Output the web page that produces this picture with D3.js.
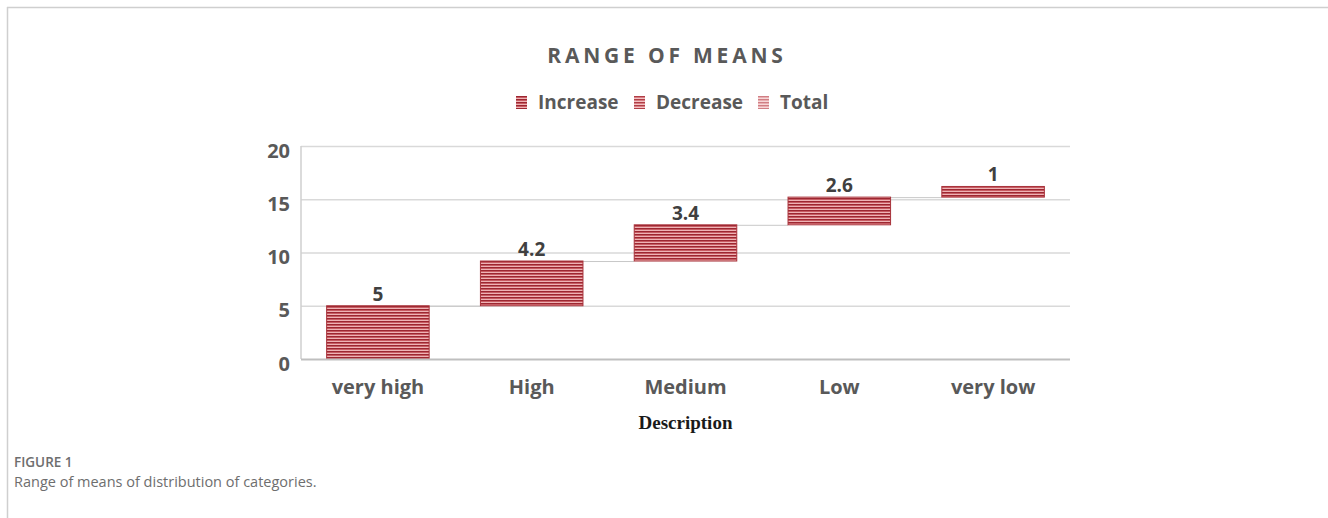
<!DOCTYPE html>
<html>
<head>
<meta charset="utf-8">
<script src="https://cdn.jsdelivr.net/npm/d3@7/dist/d3.min.js"></script>
<style>
  html, body { margin: 0; padding: 0; background: #fff; }
  svg { display: block; }
</style>
</head>
<body>
<svg id="chart" width="1328" height="518"></svg>
<script>
const categories = ["very high", "High", "Medium", "Low", "very low"];
const values = [5, 4.2, 3.4, 2.6, 1];
const valueLabels = ["5", "4.2", "3.4", "2.6", "1"];
const yTicks = [0, 5, 10, 15, 20];
const legendItems = ["Increase", "Decrease", "Total"];
const titleText = "RANGE OF MEANS";
const xAxisTitle = "Description";
const figLabel = "FIGURE 1";
const caption = "Range of means of distribution of categories.";

const svg = d3.select("#chart");
const W = 1328, H = 518;
const plot = { left: 301, right: 1070, top: 146, bottom: 359 };

// frame
svg.append("line").attr("x1", 7).attr("x2", W).attr("y1", 7.5).attr("y2", 7.5)
  .attr("stroke", "#cfcfcf").attr("stroke-width", 1.5);
svg.append("line").attr("x1", 7.5).attr("x2", 7.5).attr("y1", 7).attr("y2", H)
  .attr("stroke", "#cfcfcf").attr("stroke-width", 1.5);

// patterns
const defs = svg.append("defs");
function stripe(id, c1, c2, c3) {
  const p = defs.append("pattern").attr("id", id).attr("patternUnits", "userSpaceOnUse")
    .attr("width", 10).attr("height", 3);
  p.append("rect").attr("width", 10).attr("height", 1).attr("y", 0).attr("fill", c1);
  p.append("rect").attr("width", 10).attr("height", 1).attr("y", 1).attr("fill", c2);
  p.append("rect").attr("width", 10).attr("height", 1).attr("y", 2).attr("fill", c3);
}
stripe("pInc", "#9c2731", "#c75c63", "#eeb3b5");
stripe("pDec", "#b03e46", "#d77d83", "#f2c2c4");
stripe("pTot", "#d07e84", "#e8aeb1", "#f6d6d7");

const x = d3.scaleBand().domain(categories).range([plot.left, plot.right]).paddingInner(1/3).paddingOuter(1/6);
const y = d3.scaleLinear().domain([0, 20]).range([plot.bottom, plot.top]);

// gridlines
svg.append("g").selectAll("line").data(yTicks.filter(t => t > 0)).join("line")
  .attr("x1", plot.left).attr("x2", plot.right)
  .attr("y1", d => y(d) + 0.5).attr("y2", d => y(d) + 0.5)
  .attr("stroke", "#d9d9d9").attr("stroke-width", 1.5);

// waterfall data
let cum = 0;
const bars = values.map((v, i) => { const b = { cat: categories[i], start: cum, end: cum + v, label: valueLabels[i] }; cum += v; return b; });

// connectors
svg.append("g").selectAll("line").data(bars.slice(0, -1)).join("line")
  .attr("x1", d => x(d.cat) + x.bandwidth())
  .attr("x2", (d, i) => x(bars[i + 1].cat))
  .attr("y1", d => y(d.end) + 0.5).attr("y2", d => y(d.end) + 0.5)
  .attr("stroke", "#c8c8c8").attr("stroke-width", 1);

// bars
svg.append("g").selectAll("rect").data(bars).join("rect")
  .attr("x", d => x(d.cat)).attr("width", x.bandwidth())
  .attr("y", d => y(d.end)).attr("height", d => y(d.start) - y(d.end))
  .attr("fill", "url(#pInc)").attr("stroke", "#a8323a").attr("stroke-width", 1);

// value labels
svg.append("g").selectAll("text").data(bars).join("text")
  .attr("x", d => x(d.cat) + x.bandwidth() / 2).attr("y", d => y(d.end) - 5)
  .attr("text-anchor", "middle")
  .attr("font-family", "'Open Sans', sans-serif").attr("font-weight", "bold")
  .attr("font-size", 19).attr("fill", "#404040")
  .text(d => d.label);

// axes lines
svg.append("line").attr("x1", plot.left).attr("x2", plot.left).attr("y1", plot.top).attr("y2", plot.bottom)
  .attr("stroke", "#cfcfcf").attr("stroke-width", 1.5);
svg.append("line").attr("x1", plot.left).attr("x2", plot.right).attr("y1", plot.bottom + 0.5).attr("y2", plot.bottom + 0.5)
  .attr("stroke", "#bfbfbf").attr("stroke-width", 2);

// y axis labels
const yAxis = d3.axisLeft(y).tickValues(yTicks).tickSize(0).tickPadding(11);
const gy = svg.append("g").attr("transform", `translate(${plot.left},0)`).call(yAxis);
gy.select(".domain").remove();
gy.selectAll("text").attr("font-family", "'Open Sans', sans-serif").attr("font-weight", "bold")
  .attr("font-size", 20).attr("fill", "#595959").attr("dy", "0.55em");

// x axis labels
const xAxis = d3.axisBottom(x).tickSize(0).tickPadding(21);
const gx = svg.append("g").attr("transform", `translate(0,${plot.bottom})`).call(xAxis);
gx.select(".domain").remove();
gx.selectAll("text").attr("font-family", "'Open Sans', sans-serif").attr("font-weight", "bold")
  .attr("font-size", 20).attr("fill", "#595959");

// title
svg.append("text").attr("x", 667).attr("y", 63).attr("text-anchor", "middle")
  .attr("font-family", "'Open Sans', sans-serif").attr("font-weight", "bold")
  .attr("font-size", 21).attr("letter-spacing", 3.8).attr("fill", "#595959")
  .text(titleText);

// legend
const legendX = [516, 634, 758];
const fills = ["url(#pInc)", "url(#pDec)", "url(#pTot)"];
const lg = svg.append("g");
legendItems.forEach((t, i) => {
  lg.append("rect").attr("x", legendX[i]).attr("y", 96).attr("width", 11).attr("height", 13)
    .attr("fill", fills[i]);
  lg.append("text").attr("x", legendX[i] + 22).attr("y", 109)
    .attr("font-family", "'Open Sans', sans-serif").attr("font-weight", "bold")
    .attr("font-size", 19).attr("fill", "#595959").text(t);
});

// x axis title
svg.append("text").attr("x", (plot.left + plot.right) / 2).attr("y", 429).attr("text-anchor", "middle")
  .attr("font-family", "'Liberation Serif', 'DejaVu Serif', serif").attr("font-weight", "bold")
  .attr("font-size", 19).attr("fill", "#1a1a1a").text(xAxisTitle);

// caption
svg.append("text").attr("x", 14).attr("y", 467)
  .attr("font-family", "'Open Sans', sans-serif").attr("font-size", 13.5).attr("font-weight", 600)
  .attr("fill", "#6e6e6e").text(figLabel);
svg.append("text").attr("x", 14).attr("y", 487)
  .attr("font-family", "'Open Sans', sans-serif").attr("font-size", 14.5)
  .attr("fill", "#6e6e6e").text(caption);
</script>
</body>
</html>
